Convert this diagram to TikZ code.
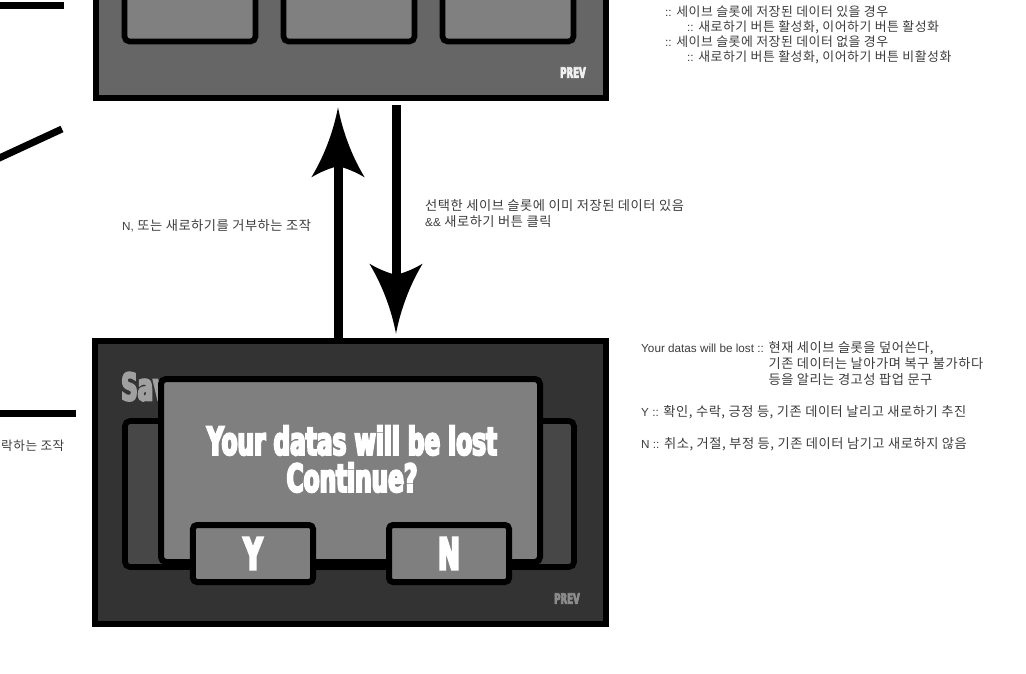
\documentclass[tikz,border=0pt]{standalone}
\usepackage{fontspec}
\usepackage{tikz}
\usetikzlibrary{positioning,arrows.meta,fit}
\newfontfamily\kr[LetterSpace=4]{Noto Sans CJK KR}
\newfontfamily\latn{Liberation Sans}
\newfontfamily\poster[FakeStretch=0.6,BoldFeatures={FakeBold=5}]{DejaVu Sans}
\newcommand\engtxt[1]{{\latn\fontsize{10}{13}\selectfont #1}}
\definecolor{panelgray}{HTML}{666666}
\definecolor{slotgray}{HTML}{808080}
\definecolor{darkpanel}{HTML}{333333}
\definecolor{darkslot}{HTML}{474747}
\definecolor{popgray}{HTML}{7F7F7F}
\definecolor{titlegray}{HTML}{A0A0A0}
\definecolor{notegray}{HTML}{3C3C3C}

% spear shaped head with hollow sides
\pgfdeclarearrow{
  name = Spear,
  defaults = {length = 2.1cm, width = 1.6cm},
  parameters = {\the\pgfarrowlength,\the\pgfarrowwidth},
  setup code = {
    \pgfarrowssettipend{0pt}
    \pgfarrowssetlineend{-0.8\pgfarrowlength}
    \pgfarrowssetbackend{-\pgfarrowlength}
    \pgfarrowsupperhullpoint{0pt}{0pt}
    \pgfarrowsupperhullpoint{-\pgfarrowlength}{.5\pgfarrowwidth}
    \pgfarrowssavethe\pgfarrowlength
    \pgfarrowssavethe\pgfarrowwidth
  },
  drawing code = {
    \pgfpathmoveto{\pgfqpoint{0pt}{0pt}}
    \pgfpathcurveto{\pgfqpoint{-.4\pgfarrowlength}{.1\pgfarrowwidth}}
      {\pgfqpoint{-.75\pgfarrowlength}{.3\pgfarrowwidth}}
      {\pgfqpoint{-\pgfarrowlength}{.5\pgfarrowwidth}}
    \pgfpathcurveto{\pgfqpoint{-.92\pgfarrowlength}{.32\pgfarrowwidth}}
      {\pgfqpoint{-.87\pgfarrowlength}{.16\pgfarrowwidth}}
      {\pgfqpoint{-.84\pgfarrowlength}{0pt}}
    \pgfpathcurveto{\pgfqpoint{-.87\pgfarrowlength}{-.16\pgfarrowwidth}}
      {\pgfqpoint{-.92\pgfarrowlength}{-.32\pgfarrowwidth}}
      {\pgfqpoint{-\pgfarrowlength}{-.5\pgfarrowwidth}}
    \pgfpathcurveto{\pgfqpoint{-.75\pgfarrowlength}{-.3\pgfarrowwidth}}
      {\pgfqpoint{-.4\pgfarrowlength}{-.1\pgfarrowwidth}}
      {\pgfqpoint{0pt}{0pt}}
    \pgfpathclose
    \pgfusepathqfill
  }
}

\begin{document}
\begin{tikzpicture}[x=0.03cm,y=-0.03cm,
  panel/.style={draw=black,line width=0.2cm,inner sep=0pt},
  slotbox/.style={draw=black,line width=0.17cm,inner sep=0pt,rounded corners=0.15cm},
  btn/.style={draw=black,line width=0.18cm,fill=popgray,rounded corners=0.12cm,
    minimum width=3.6cm,minimum height=1.71cm,inner sep=0pt,text=white,
    font=\poster\bfseries\fontsize{37.5}{38}\selectfont},
  note/.style={font=\kr\fontsize{11.3}{13.6}\selectfont,text=notegray,align=left,inner sep=0pt},
  prev/.style={font=\poster\bfseries\fontsize{12.3}{12.3}\selectfont,inner sep=0pt},
  arr/.style={-{Spear[length=2.1cm,width=1.6cm]},line width=0.27cm},
  stub/.style={line width=0.21cm}
]
\useasboundingbox (0,0) rectangle (1026,674);
\clip (0,0) rectangle (1026,674);

% slot select screen (cut at the top)
\node[panel,fill=panelgray,fit={(96,-40) (606,98)}] (slotscr) {};
\foreach \i/\x in {1/122,2/281,3/440}
  \node[slotbox,fill=slotgray,fit={(\x+2.5,-40) (\x+133.5,41.5)}] (topslot\i) {};
\node[prev,text=white!94!black,anchor=south east] (prevtop) at (586,78) {PREV};

% overwrite warning screen
\node[panel,fill=darkpanel,fit={(95,341) (606,624)}] (popscr) {};
\node[font=\poster\bfseries\fontsize{32.5}{33}\selectfont,text=titlegray,
  anchor=north west,inner sep=0pt] (savettl) at (121,372) {Save};
\foreach \i/\x in {1/122,2/281,3/440}
  \node[slotbox,fill=darkslot,fit={(\x+3,421) (\x+134,567)}] (botslot\i) {};
\node[slotbox,line width=0.18cm,fill=popgray,fit={(161,379) (540,562)}] (popup) {};
\node[font=\poster\bfseries\fontsize{33}{31.6}\selectfont,text=white,align=center]
  (warn) at (352,459) {Your datas will be lost\\Continue?};
\node[btn] (ybtn) at (253,553.5) {Y};
\node[btn] (nbtn) at (449,553.5) {N};
\node[prev,text=black!45,anchor=south east] (prevbot) at (580,604) {PREV};

% transitions
\coordinate (upx) at (338,0);
\coordinate (dnx) at (396,0);
\draw[arr,shorten >=0.18cm] (popscr.north -| upx) -- (slotscr.south -| upx);
\draw[arr,shorten <=0.12cm,shorten >=0.12cm] (slotscr.south -| dnx) -- (popscr.north -| dnx);

% notes
\node[note,anchor=north west,font=\kr\fontsize{11}{12.8}\selectfont] (slotnote) at (665,6) {%
  \engtxt{::} 세이브 슬롯에 저장된 데이터 있을 경우\\
  \hspace*{0.66cm}\engtxt{::} 새로하기 버튼 활성화, 이어하기 버튼 활성화\\
  \engtxt{::} 세이브 슬롯에 저장된 데이터 없을 경우\\
  \hspace*{0.66cm}\engtxt{::} 새로하기 버튼 활성화, 이어하기 버튼 비활성화};
\node[note,anchor=north west] (upnote) at (122,219) {\engtxt{N,} 또는 새로하기를 거부하는 조작};
\node[note,anchor=north west] (dnnote) at (425,199) {%
  선택한 세이브 슬롯에 이미 저장된 데이터 있음\\
  \engtxt{\&\&} 새로하기 버튼 클릭};
\node[note,anchor=north west] (warnnote) at (641,341) {%
  \engtxt{Your datas will be lost ::} 현재 세이브 슬롯을 덮어쓴다,\\
  \hphantom{\engtxt{Your datas will be lost ::} }기존 데이터는 날아가며 복구 불가하다\\
  \hphantom{\engtxt{Your datas will be lost ::} }등을 알리는 경고성 팝업 문구};
\node[note,anchor=north west] (ynote) at (641,405) {\engtxt{Y ::} 확인, 수락, 긍정 등, 기존 데이터 날리고 새로하기 추진};
\node[note,anchor=north west] (nnote) at (641,437) {\engtxt{N ::} 취소, 거절, 부정 등, 기존 데이터 남기고 새로하지 않음};
\node[note,anchor=north west,font=\kr\fontsize{10.8}{13}\selectfont] (leftnote) at (1,440) {락하는 조작};

% connectors coming in from the left
\coordinate (s1a) at (-5,6);   \coordinate (s1b) at (64,6);
\coordinate (s2a) at (-5,160); \coordinate (s2b) at (62,129);
\coordinate (s3a) at (-5,413); \coordinate (s3b) at (76,413);
\draw[stub] (s1a) -- (s1b);
\draw[stub] (s2a) -- (s2b);
\draw[stub] (s3a) -- (s3b);
\end{tikzpicture}
\end{document}
